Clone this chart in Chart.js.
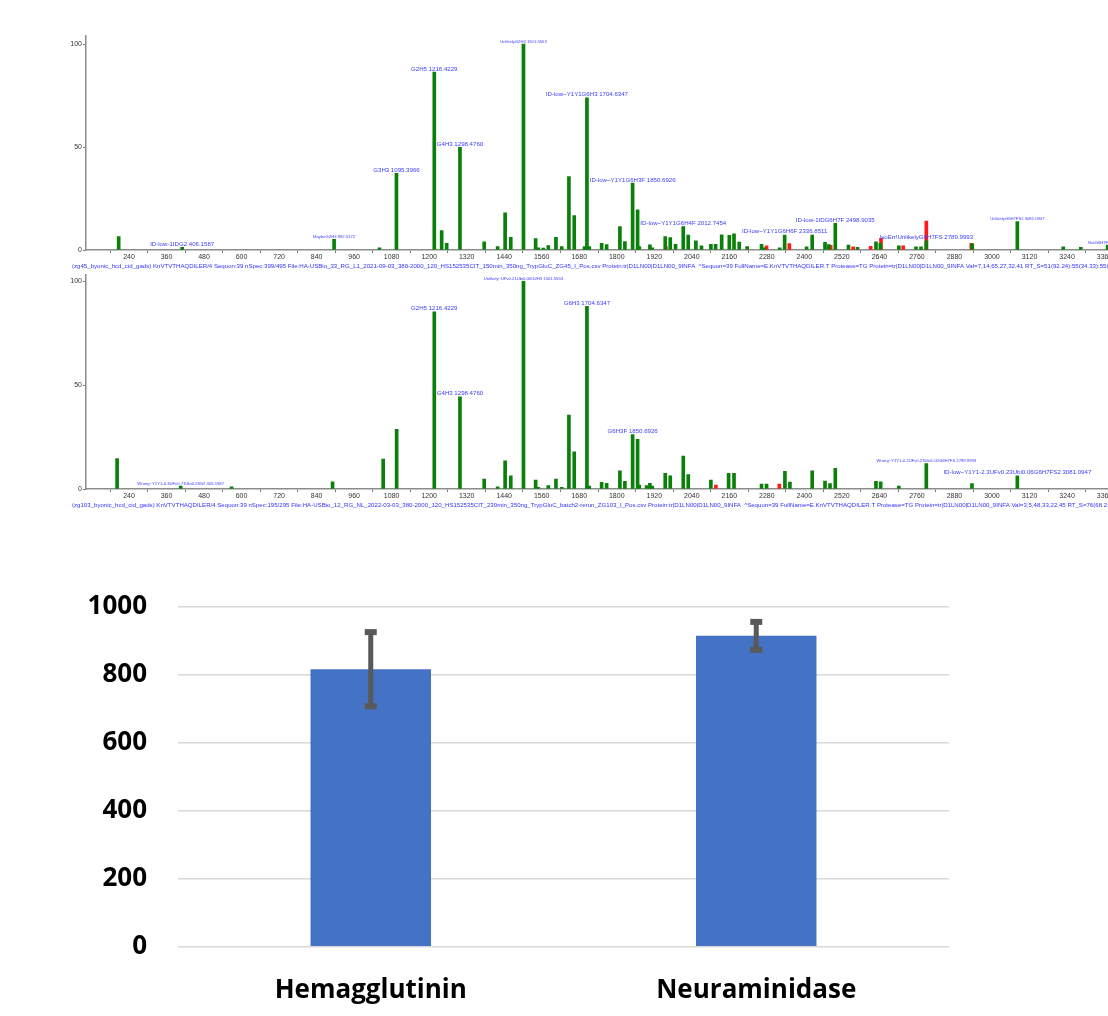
<!DOCTYPE html>
<html>
<head>
<meta charset="utf-8">
<script src="https://cdn.jsdelivr.net/npm/chart.js@4.4.1/dist/chart.umd.min.js"></script>
<style>
  html, body { margin: 0; padding: 0; background: #ffffff; width: 1108px; height: 1016px; overflow: hidden; position: relative; }
  canvas { position: absolute; left: 0; }
  #spec1 { top: 0px; }
  #spec2 { top: 270px; }
  #bars { top: 560px; }
</style>
</head>
<body>
<canvas id="spec1" width="1140" height="270"></canvas>
<canvas id="spec2" width="1140" height="245"></canvas>
<canvas id="bars" width="1108" height="456"></canvas>
<script>
// ---------------- DATA ----------------
const xTickValues = [240,360,480,600,720,840,960,1080,1200,1320,1440,1560,1680,1800,1920,2040,2160,2280,2400,2520,2640,2760,2880,3000,3120,3240,3360];
const yTickValues = [0, 50, 100];

// Top spectrum (zg45)
const topMz = [207,410,896,1041,1095.4,1216.4,1240,1256,1298.5,1376,1419,1443,1461,1501.6,1540.5,1549,1565,1581,1605.5,1624,1647,1664,1697,1704.6,1712,1751.6,1767.6,1810,1826,1850.7,1866.6,1872,1906,1913.5,1955,1971,1988,2012.7,2028.6,2053,2071,2101,2116,2135.5,2160,2175,2191.7,2217,2263,2271.6,2321,2336.9,2407,2425,2466,2478,2498.9,2541,2570,2629,2643,2702,2757,2773,2790,2937,3081.1,3228,3284,3370];
const topIntensity = [6.5,1.3,5.2,1.1,37.2,86.4,9.4,3.2,49.8,4.0,1.6,18.1,6.2,100,5.5,1.0,0.9,2.1,6.2,1.6,35.6,16.7,1.6,73.9,1.6,3.2,2.6,11.4,4.1,32.5,19.5,1.6,2.5,1.0,6.5,6.0,2.8,11.4,7.3,4.4,2.0,2.8,2.8,7.4,7.1,7.8,3.8,1.6,2.7,1.0,1.1,7.3,1.5,7.3,3.7,2.6,13.0,2.4,1.3,4.0,3.2,2.0,1.5,1.5,4.5,3.0,13.8,1.5,1.3,2.4];
const topRedMz = [1957,2279,2352,2484,2556,2612,2645,2716,2790,2934];
const topRedIntensity = [1.7,2.0,3.1,2.3,1.5,1.8,5.7,2.0,14.1,3.2];
const topLabelMz = [410,896,1095.4,1216.4,1298.5,1501.6,1704.6,1850.7,2012.7,2336.9,2498.9,2790,3081.1,3370];
const topLabelText = [
  'ID-low-1IDG2 406.1587',
  'MaybeG2H3 892.3172',
  'G3H3 1095.3966',
  'G2H5 1216.4229',
  'G4H3 1298.4760',
  'UnlikelyG2H3 1501.5553',
  'ID-low~Y1Y1G6H3 1704.6347',
  'ID-low~Y1Y1G6H3F 1850.6926',
  'ID-low~Y1Y1G6H4F 2012.7454',
  'ID-low~Y1Y1G6H6F 2336.8511',
  'ID-low-1IDG6H7F 2498.9035',
  'IsoErr!UnlikelyG6H7FS 2789.9993',
  'UnlikelyG6H7FS2 3081.0947',
  'NotG6H7FS2 3370.1'
];
const topCaption = '(zg45_byonic_hcd_cid_gads) KnVTVTHAQDILER/4 Sequon:39 nSpec:399/495 File:HA-USBio_33_RG_L1_2021-09-03_380-2000_120_HS152535CIT_150min_350ng_TrypGluC_ZG45_I_Pos.csv Protein:tr|D1LN00|D1LN00_9INFA  ^Sequon=39 FullName=E.KnVTVTHAQDILER.T Protease=TG Protein=tr|D1LN00|D1LN00_9INFA Val=7,14,65,27,32,41 RT_S=51(92.24):55(34.33):55(33.12)';

// Bottom spectrum (zg103)
const botMz = [202,405.3,568,891,1053,1096,1216.4,1298.5,1376,1419,1443,1461,1501.6,1540.5,1549,1581,1605.5,1624,1647,1664,1704.6,1712,1751.6,1767.6,1810,1826,1850.7,1866.6,1872,1895.5,1906,1913.5,1955,1971,2012.7,2028.6,2101,2157.7,2175,2263,2279,2337.8,2353.8,2425,2466,2482,2498.9,2629,2644,2702,2790,2936,3081.1];
const botIntensity = [14.7,1.4,1.1,3.4,14.4,28.8,85.3,44.4,4.8,1.1,13.6,6.3,100,4.3,0.8,1.6,4.8,0.8,35.6,17.9,88.0,1.4,3.2,2.7,8.8,3.7,26.2,23.9,1.9,1.6,2.7,1.4,7.5,6.3,15.9,6.9,4.3,7.5,7.5,2.4,2.4,8.5,3.3,8.7,3.8,2.6,9.9,3.7,3.4,1.4,12.3,2.6,6.4];
const botRedMz = [2117,2320];
const botRedIntensity = [1.9,2.4];
const botLabelMz = [405.3,1216.4,1298.5,1501.6,1704.6,1850.7,2790,3081.1];
const botLabelText = [
  'Wrong~Y1Y1-0.3UFv0.71Ubi0.28G2 406.1587',
  'G2H5 1216.4229',
  'G4H3 1298.4760',
  'Unlikely~UFv0.21Ubi0.00G2H3 1501.5553',
  'G6H3 1704.6347',
  'G6H3F 1850.6926',
  'Wrong~Y1Y1-0.2UFv0.23Ubi1.00G6H7FS 2789.9993',
  'ID-low~Y1Y1-2.3UFv0.23Ubi0.06G6H7FS2 3081.0947'
];
const botCaption = '(zg103_byonic_hcd_cid_gads) KnVTVTHAQDILER/4 Sequon:39 nSpec:195/295 File:HA-USBio_12_RG_NL_2022-03-03_380-2000_120_HS152535CIT_230min_350ng_TrypGluC_batch2-rerun_ZG103_I_Pos.csv Protein:tr|D1LN00|D1LN00_9INFA  ^Sequon=39 FullName=E.KnVTVTHAQDILER.T Protease=TG Protein=tr|D1LN00|D1LN00_9INFA Val=3,5,48,33,22,45 RT_S=76(68.21):55(31.40)';

// Bar chart
const barCategories = ['Hemagglutinin', 'Neuraminidase'];
const barValues = [816, 914];
const barErrors = [109, 41];
const barTickValues = [0, 200, 400, 600, 800, 1000];

// ---------------- DRAWING ----------------
Chart.defaults.animation = false;
Chart.defaults.devicePixelRatio = 1;

const SPEC_FONT = '"Liberation Sans", Arial, sans-serif';

const specLabelPlugin = {
  id: 'specLabels',
  afterDatasetsDraw(chart) {
    const cfg = chart.options.plugins.specLabels;
    if (!cfg) return;
    const { ctx, scales: { x, y }, chartArea } = chart;
    ctx.save();
    ctx.fillStyle = '#3b3bff';
    ctx.textAlign = 'center';
    ctx.textBaseline = 'middle';
    cfg.labelMz.forEach((m, i) => {
      const text = cfg.labelText[i];
      const idx = cfg.peakMz.indexOf(m);
      const inten = idx >= 0 ? cfg.peakI[idx] : 0;
      const small = /^(Maybe|Unlikely|Wrong|Not)/.test(text);
      ctx.font = (small ? '4.2px ' : '6.1px ') + SPEC_FONT;
      ctx.fillText(text, x.getPixelForValue(m), y.getPixelForValue(inten) - (small ? 2.5 : 3.2));
    });
    ctx.textAlign = 'left';
    ctx.font = '6.1px ' + SPEC_FONT;
    ctx.fillStyle = '#3333ff';
    ctx.fillText(cfg.caption, 72, chartArea.bottom + cfg.captionOffset);
    ctx.restore();
  }
};

function makeSpectrum(id, mz, inten, redMz, redI, labelMz, labelText, caption, yMax, padTop, xAxisH, captionOffset) {
  const green = mz.map((m, i) => ({ x: m, y: inten[i] }));
  const red = redMz.map((m, i) => ({ x: m, y: redI[i] }));
  return new Chart(document.getElementById(id), {
    type: 'bar',
    data: {
      datasets: [
        { data: green, backgroundColor: '#0a800a', borderWidth: 0, barThickness: 3, grouped: false },
        { data: red, backgroundColor: '#ff1a1a', borderWidth: 0, barThickness: 3, grouped: false }
      ]
    },
    options: {
      responsive: false,
      animation: false,
      layout: { autoPadding: false, padding: { top: padTop, left: 0, right: 0, bottom: 0 } },
      plugins: {
        legend: { display: false },
        tooltip: { enabled: false },
        specLabels: { peakMz: mz, peakI: inten, labelMz: labelMz, labelText: labelText, caption: caption, captionOffset: captionOffset }
      },
      scales: {
        x: {
          type: 'linear',
          min: 102.5,
          max: 3473.4,
          offset: false,
          afterBuildTicks: (s) => { s.ticks = xTickValues.map(v => ({ value: v })); },
          afterFit: (s) => { s.height = xAxisH; },
          grid: { display: true, drawOnChartArea: false, drawTicks: true, tickLength: 3, color: '#777', lineWidth: 1 },
          border: { display: true, color: '#8c8c8c', width: 1.5 },
          ticks: { autoSkip: false, maxRotation: 0, padding: 0, color: '#333', font: { family: SPEC_FONT, size: 7 }, callback: (v) => String(v) }
        },
        y: {
          type: 'linear',
          min: 0,
          max: yMax,
          afterBuildTicks: (s) => { s.ticks = yTickValues.map(v => ({ value: v })); },
          afterFit: (s) => { s.width = 86; },
          grid: { display: true, drawOnChartArea: false, drawTicks: true, tickLength: 3, color: '#777', lineWidth: 1 },
          border: { display: true, color: '#8c8c8c', width: 1.5 },
          ticks: { padding: 1, color: '#333', font: { family: SPEC_FONT, size: 7 }, callback: (v) => String(v) }
        }
      }
    },
    plugins: [specLabelPlugin]
  });
}

makeSpectrum('spec1', topMz, topIntensity, topRedMz, topRedIntensity, topLabelMz, topLabelText, topCaption, 104, 35.8, 20, 16);
makeSpectrum('spec2', botMz, botIntensity, botRedMz, botRedIntensity, botLabelMz, botLabelText, botCaption, 103, 4.8, 26, 16);

const errorBarPlugin = {
  id: 'errorBars',
  afterDatasetsDraw(chart) {
    const { ctx, scales: { y } } = chart;
    const meta = chart.getDatasetMeta(0);
    ctx.save();
    ctx.fillStyle = '#595959';
    meta.data.forEach((bar, i) => {
      const v = barValues[i], e = barErrors[i];
      const cx = bar.x;
      const yt = y.getPixelForValue(v + e);
      const yb = y.getPixelForValue(v - e);
      ctx.fillRect(cx - 2.5, yt, 5, yb - yt);
      ctx.fillRect(cx - 6, yt - 3, 12, 6);
      ctx.fillRect(cx - 6, yb - 3, 12, 6);
    });
    ctx.restore();
  }
};

const BAR_FONT = '"Open Sans", "Liberation Sans", sans-serif';
new Chart(document.getElementById('bars'), {
  type: 'bar',
  data: {
    labels: barCategories,
    datasets: [{ data: barValues, backgroundColor: '#4472C4', borderWidth: 0, categoryPercentage: 1, barPercentage: 0.3125 }]
  },
  options: {
    responsive: false,
    animation: false,
    layout: { autoPadding: false, padding: { top: 42, left: 0, right: 159, bottom: 0 } },
    plugins: { legend: { display: false }, tooltip: { enabled: false } },
    scales: {
      x: {
        afterFit: (s) => { s.height = 69.3; },
        grid: { display: false, drawTicks: false },
        border: { display: false },
        ticks: { padding: 28, color: '#000', font: { family: BAR_FONT, size: 26, weight: 'bold' } }
      },
      y: {
        min: 0,
        max: 1000,
        afterBuildTicks: (s) => { s.ticks = barTickValues.map(v => ({ value: v })); },
        afterFit: (s) => { s.width = 178; },
        grid: { color: '#d9d9d9', lineWidth: 1.5, drawTicks: false },
        border: { display: false },
        ticks: { padding: 31, color: '#000', font: { family: BAR_FONT, size: 26, weight: 'bold' }, callback: (v) => String(v) }
      }
    }
  },
  plugins: [errorBarPlugin]
});
</script>
</body>
</html>
